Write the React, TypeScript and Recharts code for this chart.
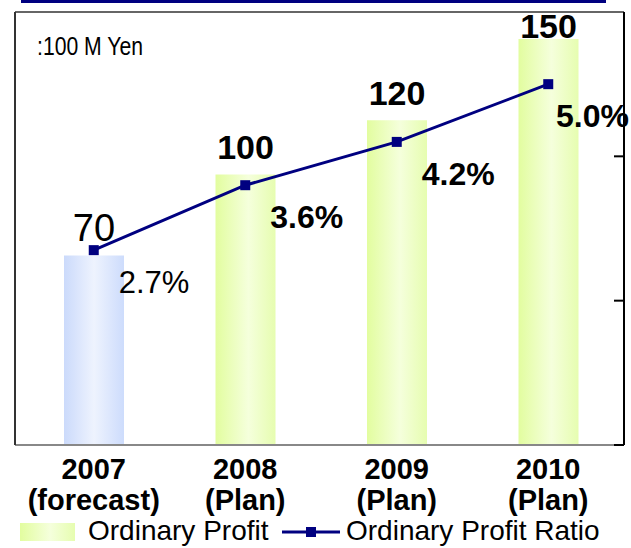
import React from "react";
import {
  ComposedChart,
  Bar,
  Line,
  Cell,
  XAxis,
  YAxis,
  LabelList,
  ReferenceLine,
} from "recharts";

const years = ["2007", "2008", "2009", "2010"];
const subLabels = ["(forecast)", "(Plan)", "(Plan)", "(Plan)"];
const profit = [70, 100, 120, 150];
const ratio = [2.7, 3.6, 4.2, 5.0];
const ratioTicks = [0, 2, 4, 6];

const W = 631;
const H = 548;
const FONT = "'Liberation Sans', Arial, sans-serif";

const data = years.map((y, i) => ({
  name: y,
  sub: subLabels[i],
  profit: profit[i],
  ratio: ratio[i],
  forecast: subLabels[i] === "(forecast)",
}));

const XTick = (props: any) => {
  const { x, y, payload, index } = props;
  return (
    <g>
      <text
        x={x}
        y={y + 34}
        textAnchor="middle"
        fontFamily={FONT}
        fontWeight="bold"
        fontSize={29}
        fill="#000"
      >
        {payload.value}
      </text>
      <text
        x={x}
        y={y + 65}
        textAnchor="middle"
        fontFamily={FONT}
        fontWeight="bold"
        fontSize={29}
        fill="#000"
      >
        {subLabels[index]}
      </text>
    </g>
  );
};

// short inward tick marks on the right axis
const RightTick = (props: any) => {
  const { y, payload } = props;
  if (payload.value === 6) return <g />;
  return <line x1={614} x2={624} y1={y} y2={y} stroke="#000" strokeWidth={2} />;
};

const BarLabel = (props: any) => {
  const { x, y, width, value, index } = props;
  const fc = data[index].forecast;
  return (
    <text
      x={x + width / 2}
      y={Math.max(y - 15, 38)}
      textAnchor="middle"
      fontFamily={FONT}
      fontWeight={fc ? "normal" : "bold"}
      fontSize={fc ? 38 : 34}
      fill="#000"
    >
      {value}
    </text>
  );
};

const RatioLabel = (props: any) => {
  const { x, y, value, index } = props;
  const fc = data[index].forecast;
  return (
    <text
      x={Math.min(x + 25, W - 75)}
      y={y + 43}
      textAnchor="start"
      fontFamily={FONT}
      fontWeight={fc ? "normal" : "bold"}
      fontSize={fc ? 31 : 32}
      fill="#000"
    >
      {value.toFixed(1)}%
    </text>
  );
};

const SquareDot = (props: any) => {
  const { cx, cy } = props;
  return <rect x={cx - 5} y={cy - 5} width={10} height={10} fill="#000080" />;
};

export default function App() {
  return (
    <div
      style={{
        position: "absolute",
        left: 0,
        top: 0,
        width: W,
        height: H,
        background: "#fff",
        overflow: "hidden",
      }}
    >
      <div
        style={{
          position: "absolute",
          left: 21,
          top: 0,
          width: 585,
          height: 3,
          background: "#000080",
        }}
      />
      <ComposedChart
        width={W}
        height={H}
        data={data}
        margin={{ top: 12, right: 6, bottom: 43, left: 14 }}
      >
        <defs>
          <linearGradient id="greenGrad" x1="0" y1="0" x2="1" y2="0">
            <stop offset="0%" stopColor="#e2fd9f" />
            <stop offset="55%" stopColor="#f5ffdc" />
            <stop offset="100%" stopColor="#e6fdb0" />
          </linearGradient>
          <linearGradient id="blueGrad" x1="0" y1="0" x2="1" y2="0">
            <stop offset="0%" stopColor="#cbdafb" />
            <stop offset="50%" stopColor="#eef3fe" />
            <stop offset="100%" stopColor="#cddcfc" />
          </linearGradient>
        </defs>
        <XAxis
          dataKey="name"
          tick={<XTick />}
          tickLine={false}
          tickSize={0}
          tickMargin={0}
          axisLine={{ stroke: "#888", strokeWidth: 2 }}
          padding={{ left: 3, right: 0 }}
          interval={0}
          height={60}
        />
        <YAxis
          yAxisId="left"
          domain={[0, 160]}
          width={1}
          tick={false}
          tickLine={false}
          axisLine={{ stroke: "#333", strokeWidth: 2 }}
        />
        <YAxis
          yAxisId="right"
          orientation="right"
          domain={[0, 6]}
          ticks={ratioTicks}
          width={1}
          tick={<RightTick />}
          tickLine={false}
          tickSize={0}
          tickMargin={0}
          axisLine={{ stroke: "#000", strokeWidth: 2 }}
        />
        <ReferenceLine yAxisId="left" y={160} stroke="#666" strokeWidth={2} />
        <Bar
          yAxisId="left"
          dataKey="profit"
          barSize={60}
          isAnimationActive={false}
        >
          {data.map((d, i) => (
            <Cell key={i} fill={d.forecast ? "url(#blueGrad)" : "url(#greenGrad)"} />
          ))}
          <LabelList dataKey="profit" content={<BarLabel />} />
        </Bar>
        <Line
          yAxisId="right"
          dataKey="ratio"
          type="linear"
          stroke="#000080"
          strokeWidth={3}
          dot={<SquareDot />}
          activeDot={false}
          isAnimationActive={false}
        >
          <LabelList dataKey="ratio" content={<RatioLabel />} />
        </Line>
        <text
          x={37}
          y={55}
          fontFamily={FONT}
          fontSize={26}
          textLength={106}
          lengthAdjust="spacingAndGlyphs"
          fill="#000"
        >
          :100 M Yen
        </text>
      </ComposedChart>
      <div
        style={{
          position: "absolute",
          left: 0,
          top: 518,
          width: W,
          height: 30,
          fontFamily: FONT,
          fontSize: 28,
          color: "#000",
        }}
      >
        <div
          style={{
            position: "absolute",
            left: 20,
            top: 5,
            width: 55,
            height: 18,
            background: "linear-gradient(to right, #e2fd9f, #f5ffdc 55%, #e6fdb0)",
          }}
        />
        <div style={{ position: "absolute", left: 88, top: -3, whiteSpace: "nowrap" }}>
          Ordinary Profit
        </div>
        <svg style={{ position: "absolute", left: 282, top: 7 }} width={60} height={14}>
          <line x1={0} x2={58} y1={7} y2={7} stroke="#000080" strokeWidth={3} />
          <rect x={24} y={2} width={10} height={10} fill="#000080" />
        </svg>
        <div style={{ position: "absolute", left: 346, top: -3, whiteSpace: "nowrap" }}>
          Ordinary Profit Ratio
        </div>
      </div>
    </div>
  );
}
